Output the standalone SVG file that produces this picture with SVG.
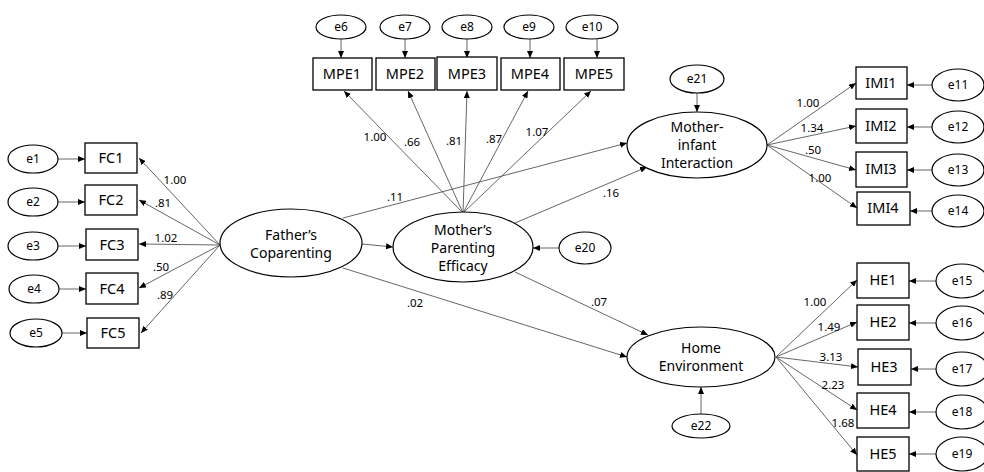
<svg xmlns="http://www.w3.org/2000/svg" width="984" height="472" viewBox="0 0 984 472">
<defs>
<marker id="ah" markerWidth="8" markerHeight="6" refX="7" refY="3" orient="auto" markerUnits="userSpaceOnUse">
<path d="M0,0 L7,3 L0,6 Z" fill="#000"/>
</marker>
<style>
.bx{fill:#fff;stroke:#000;stroke-width:1.3}
.el{fill:#fff;stroke:#000;stroke-width:1.2}
.ln{stroke:#555;stroke-width:0.9;fill:none;marker-end:url(#ah)}
.t{font-family:"Noto Sans","Open Sans",sans-serif;fill:#000;text-anchor:middle}
.bt{font-size:14.5px}
.et{font-size:12px}
.lt{font-size:14px}
.nt{font-size:11.5px}
</style>
</defs>
<rect width="984" height="472" fill="#fff"/>
<g id="connectors">
<line class="ln" x1="220" y1="245" x2="139" y2="158"/>
<line class="ln" x1="220" y1="245" x2="139" y2="200"/>
<line class="ln" x1="220" y1="245" x2="139" y2="244"/>
<line class="ln" x1="220" y1="245" x2="139" y2="288"/>
<line class="ln" x1="220" y1="245" x2="141" y2="333"/>
<line class="ln" x1="58" y1="159" x2="85" y2="159"/>
<line class="ln" x1="58" y1="202" x2="85" y2="202"/>
<line class="ln" x1="58" y1="246" x2="86" y2="246"/>
<line class="ln" x1="58" y1="289" x2="86" y2="289"/>
<line class="ln" x1="62" y1="333" x2="87" y2="333"/>
<line class="ln" x1="463" y1="213" x2="344" y2="91"/>
<line class="ln" x1="463" y1="213" x2="408" y2="91"/>
<line class="ln" x1="463" y1="213" x2="467" y2="91"/>
<line class="ln" x1="463" y1="213" x2="528" y2="91"/>
<line class="ln" x1="463" y1="213" x2="591" y2="91"/>
<line class="ln" x1="341" y1="39" x2="341" y2="58"/>
<line class="ln" x1="405" y1="39" x2="405" y2="58"/>
<line class="ln" x1="467" y1="39" x2="467" y2="58"/>
<line class="ln" x1="530" y1="39" x2="530" y2="58"/>
<line class="ln" x1="597" y1="39" x2="597" y2="58"/>
<line class="ln" x1="362" y1="244" x2="393" y2="247"/>
<line class="ln" x1="559" y1="248" x2="533" y2="248"/>
<line class="ln" x1="343" y1="218" x2="627" y2="143"/>
<line class="ln" x1="515" y1="223" x2="647" y2="167"/>
<line class="ln" x1="343" y1="268" x2="627" y2="357"/>
<line class="ln" x1="515" y1="272" x2="648" y2="335"/>
<line class="ln" x1="697" y1="93" x2="697" y2="112"/>
<line class="ln" x1="701" y1="414" x2="701" y2="387"/>
<line class="ln" x1="767" y1="145" x2="856" y2="83"/>
<line class="ln" x1="767" y1="145" x2="856" y2="126"/>
<line class="ln" x1="767" y1="145" x2="856" y2="170"/>
<line class="ln" x1="767" y1="145" x2="857" y2="208"/>
<line class="ln" x1="932" y1="85" x2="907" y2="85"/>
<line class="ln" x1="932" y1="127" x2="907" y2="127"/>
<line class="ln" x1="932" y1="170" x2="907" y2="170"/>
<line class="ln" x1="932" y1="211" x2="910" y2="211"/>
<line class="ln" x1="776" y1="357" x2="857" y2="280"/>
<line class="ln" x1="776" y1="357" x2="857" y2="322"/>
<line class="ln" x1="776" y1="357" x2="858" y2="367"/>
<line class="ln" x1="776" y1="357" x2="857" y2="410"/>
<line class="ln" x1="776" y1="357" x2="857" y2="455"/>
<line class="ln" x1="937" y1="281" x2="909" y2="281"/>
<line class="ln" x1="937" y1="323" x2="909" y2="323"/>
<line class="ln" x1="937" y1="369" x2="911" y2="369"/>
<line class="ln" x1="937" y1="412" x2="909" y2="412"/>
<line class="ln" x1="937" y1="454" x2="909" y2="454"/>
<g class="t nt">
<text x="175" y="184">1.00</text>
<text x="163" y="207">.81</text>
<text x="166" y="242">1.02</text>
<text x="161" y="271">.50</text>
<text x="165" y="299">.89</text>
<text x="375" y="141">1.00</text>
<text x="412" y="146">.66</text>
<text x="454" y="145">.81</text>
<text x="494" y="143">.87</text>
<text x="537" y="136">1.07</text>
<text x="395" y="201">.11</text>
<text x="611" y="197">.16</text>
<text x="415" y="307">.02</text>
<text x="599" y="306">.07</text>
<text x="808" y="107">1.00</text>
<text x="812" y="132">1.34</text>
<text x="813" y="154">.50</text>
<text x="820" y="182">1.00</text>
<text x="815" y="306">1.00</text>
<text x="829" y="331">1.49</text>
<text x="831" y="361">3.13</text>
<text x="833" y="389">2.23</text>
<text x="843" y="427">1.68</text>
</g>
</g>
<g id="FC1"><rect class="bx" x="85" y="143" width="52" height="30"/><text class="t bt" x="111" y="163">FC1</text></g>
<g id="FC2"><rect class="bx" x="85" y="185" width="52" height="30"/><text class="t bt" x="111" y="205">FC2</text></g>
<g id="FC3"><rect class="bx" x="86" y="229" width="52" height="31"/><text class="t bt" x="112" y="250">FC3</text></g>
<g id="FC4"><rect class="bx" x="86" y="273" width="52" height="31"/><text class="t bt" x="112" y="294">FC4</text></g>
<g id="FC5"><rect class="bx" x="87" y="318" width="52" height="30"/><text class="t bt" x="113" y="338">FC5</text></g>
<g id="e1"><ellipse class="el" cx="33" cy="159" rx="25" ry="14"/><text class="t et" x="33" y="163">e1</text></g>
<g id="e2"><ellipse class="el" cx="33" cy="202" rx="25" ry="14"/><text class="t et" x="33" y="206">e2</text></g>
<g id="e3"><ellipse class="el" cx="33" cy="246" rx="25" ry="14"/><text class="t et" x="33" y="250">e3</text></g>
<g id="e4"><ellipse class="el" cx="34" cy="289" rx="25" ry="14"/><text class="t et" x="34" y="293">e4</text></g>
<g id="e5"><ellipse class="el" cx="36" cy="333" rx="26" ry="14"/><text class="t et" x="36" y="337">e5</text></g>
<g id="MPE1"><rect class="bx" x="313" y="58" width="59" height="32"/><text class="t bt" x="342" y="79">MPE1</text></g>
<g id="MPE2"><rect class="bx" x="376" y="58" width="59" height="32"/><text class="t bt" x="405" y="79">MPE2</text></g>
<g id="MPE3"><rect class="bx" x="437" y="57" width="60" height="33"/><text class="t bt" x="467" y="79">MPE3</text></g>
<g id="MPE4"><rect class="bx" x="501" y="58" width="59" height="32"/><text class="t bt" x="530" y="79">MPE4</text></g>
<g id="MPE5"><rect class="bx" x="564" y="58" width="60" height="32"/><text class="t bt" x="594" y="79">MPE5</text></g>
<g id="e6"><ellipse class="el" cx="341" cy="27" rx="25" ry="12"/><text class="t et" x="341" y="31">e6</text></g>
<g id="e7"><ellipse class="el" cx="405" cy="27" rx="25" ry="12"/><text class="t et" x="405" y="31">e7</text></g>
<g id="e8"><ellipse class="el" cx="467" cy="27" rx="25" ry="12"/><text class="t et" x="467" y="31">e8</text></g>
<g id="e9"><ellipse class="el" cx="529" cy="27" rx="25" ry="12"/><text class="t et" x="529" y="31">e9</text></g>
<g id="e10"><ellipse class="el" cx="592" cy="27" rx="26" ry="12"/><text class="t et" x="592" y="31">e10</text></g>
<g id="FatherCoparenting"><ellipse class="el" cx="291" cy="243" rx="71" ry="34"/><text class="t lt" x="291" y="240">Father’s</text><text class="t lt" x="291" y="258">Coparenting</text></g>
<g id="MotherParentingEfficacy"><ellipse class="el" cx="463" cy="247" rx="70" ry="35"/><text class="t lt" x="463" y="235">Mother’s</text><text class="t lt" x="463" y="253">Parenting</text><text class="t lt" x="463" y="271">Efficacy</text></g>
<g id="e20"><ellipse class="el" cx="585" cy="248" rx="26" ry="16"/><text class="t et" x="585" y="252">e20</text></g>
<g id="MotherInfantInteraction"><ellipse class="el" cx="697" cy="145" rx="70" ry="33"/><text class="t lt" x="697" y="132">Mother-</text><text class="t lt" x="697" y="150">infant</text><text class="t lt" x="697" y="168">Interaction</text></g>
<g id="e21"><ellipse class="el" cx="697" cy="79" rx="27" ry="14"/><text class="t et" x="697" y="83">e21</text></g>
<g id="HomeEnvironment"><ellipse class="el" cx="701" cy="357" rx="74" ry="30"/><text class="t lt" x="701" y="353">Home</text><text class="t lt" x="701" y="371">Environment</text></g>
<g id="e22"><ellipse class="el" cx="701" cy="426" rx="29" ry="12"/><text class="t et" x="701" y="430">e22</text></g>
<g id="IMI1"><rect class="bx" x="856" y="67" width="51" height="32"/><text class="t bt" x="881" y="88">IMI1</text></g>
<g id="IMI2"><rect class="bx" x="856" y="109" width="51" height="34"/><text class="t bt" x="881" y="131">IMI2</text></g>
<g id="IMI3"><rect class="bx" x="856" y="152" width="51" height="35"/><text class="t bt" x="881" y="174">IMI3</text></g>
<g id="IMI4"><rect class="bx" x="857" y="192" width="53" height="33"/><text class="t bt" x="883" y="213">IMI4</text></g>
<g id="e11"><ellipse class="el" cx="958" cy="85" rx="26" ry="16"/><text class="t et" x="958" y="89">e11</text></g>
<g id="e12"><ellipse class="el" cx="958" cy="127" rx="26" ry="16"/><text class="t et" x="958" y="131">e12</text></g>
<g id="e13"><ellipse class="el" cx="958" cy="170" rx="26" ry="16"/><text class="t et" x="958" y="174">e13</text></g>
<g id="e14"><ellipse class="el" cx="958" cy="211" rx="26" ry="16"/><text class="t et" x="958" y="215">e14</text></g>
<g id="HE1"><rect class="bx" x="857" y="263" width="52" height="35"/><text class="t bt" x="883" y="285">HE1</text></g>
<g id="HE2"><rect class="bx" x="857" y="305" width="52" height="35"/><text class="t bt" x="883" y="327">HE2</text></g>
<g id="HE3"><rect class="bx" x="858" y="349" width="53" height="36"/><text class="t bt" x="884" y="372">HE3</text></g>
<g id="HE4"><rect class="bx" x="857" y="393" width="52" height="35"/><text class="t bt" x="883" y="415">HE4</text></g>
<g id="HE5"><rect class="bx" x="857" y="437" width="52" height="34"/><text class="t bt" x="883" y="459">HE5</text></g>
<g id="e15"><ellipse class="el" cx="962" cy="281" rx="26" ry="17"/><text class="t et" x="962" y="285">e15</text></g>
<g id="e16"><ellipse class="el" cx="962" cy="323" rx="26" ry="17"/><text class="t et" x="962" y="327">e16</text></g>
<g id="e17"><ellipse class="el" cx="962" cy="369" rx="26" ry="17"/><text class="t et" x="962" y="373">e17</text></g>
<g id="e18"><ellipse class="el" cx="962" cy="412" rx="26" ry="17"/><text class="t et" x="962" y="416">e18</text></g>
<g id="e19"><ellipse class="el" cx="962" cy="454" rx="26" ry="17"/><text class="t et" x="962" y="458">e19</text></g>
</svg>
